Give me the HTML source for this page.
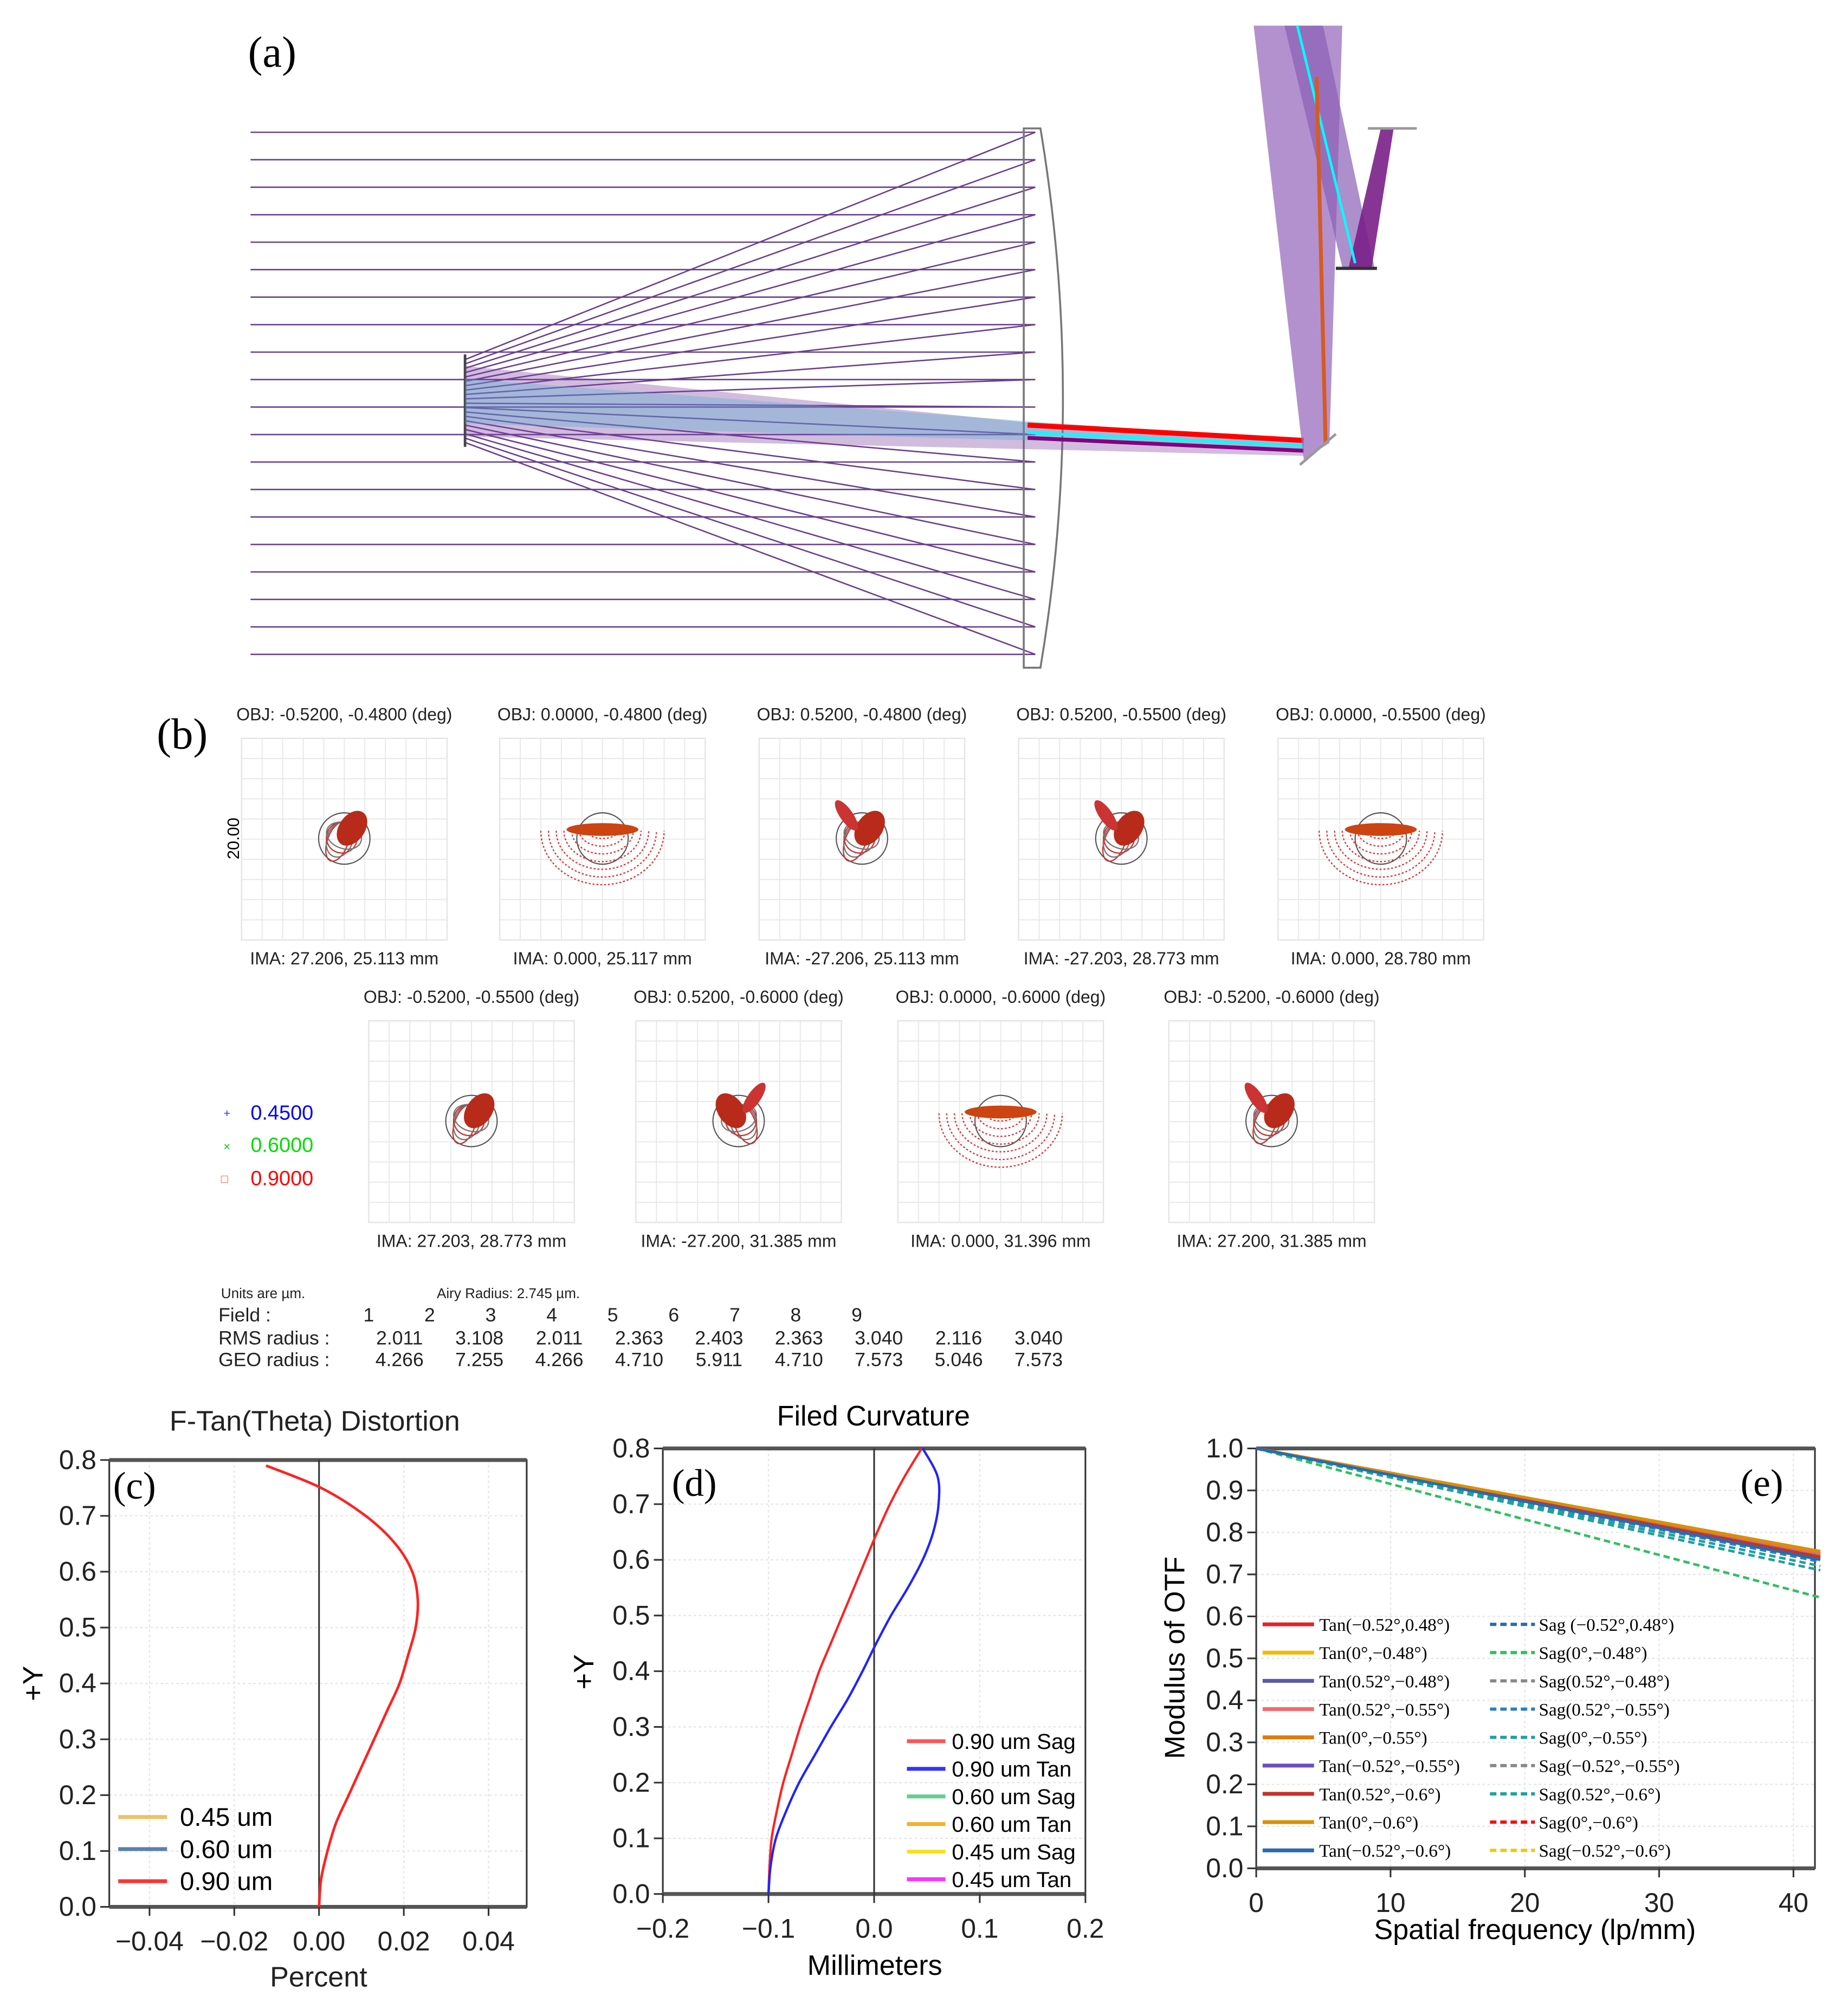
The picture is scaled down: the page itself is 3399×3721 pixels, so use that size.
<!DOCTYPE html>
<html><head><meta charset="utf-8"><style>
html,body{margin:0;padding:0;background:#fff}
svg{display:block}
text{font-family:"Liberation Sans",sans-serif}
.serif{font-family:"Liberation Serif",serif}
</style></head><body>
<svg id="root" width="3399" height="3721" viewBox="0 0 1434 1570" xmlns="http://www.w3.org/2000/svg">
<g id="panelA">
<text class="serif" x="193" y="52" font-size="34">(a)</text>
<g id="rays"></g>
<path d="M797,100 L810,100 Q845,310 810,520 L797,520 Z" fill="none" stroke="#777" stroke-width="1.5"/>
<line x1="362" y1="276" x2="362" y2="348" stroke="#444" stroke-width="2"/>
<polygon points="362,285 810,330 1015,345 1015,355 810,350 362,340" fill="#7b3fa0" opacity="0.35"/>
<polygon points="362,295 800,328 1015,343 1015,350 800,343 362,330" fill="#4fb0d0" opacity="0.35"/>
<line x1="800" y1="331" x2="1015" y2="343" stroke="#f00" stroke-width="4"/>
<line x1="800" y1="337" x2="1015" y2="347" stroke="#0ff" stroke-width="2"/>
<line x1="800" y1="341" x2="1015" y2="351" stroke="#800080" stroke-width="3"/>
<polygon points="976,20 1045,20 1035,345 1015,358" fill="#9a6cbf" opacity="0.75"/>
<polygon points="1000,20 1030,20 1070,208 1045,208" fill="#8a5fb5" opacity="0.7"/>
<polygon points="1050,208 1068,208 1085,100 1075,100" fill="#7a1f8a" opacity="0.9"/>
<line x1="1010" y1="20" x2="1055" y2="205" stroke="#0ff" stroke-width="2"/>
<line x1="1025" y1="60" x2="1032" y2="345" stroke="#d85a20" stroke-width="3"/>
<line x1="1065" y1="100" x2="1103" y2="100" stroke="#999" stroke-width="2"/>
<line x1="1040" y1="209" x2="1072" y2="209" stroke="#333" stroke-width="2.5"/>
<line x1="1012" y1="362" x2="1040" y2="338" stroke="#999" stroke-width="2"/>
</g>

<g id="panelB">
<text class="serif" x="122" y="583" font-size="34">(b)</text>
<g id="spots"></g>
<text x="174" y="870" font-size="9" fill="#33f">+</text><text x="195" y="872" font-size="16" fill="#00f">0.4500</text>
<text x="174" y="896" font-size="9" fill="#0c0">×</text><text x="195" y="897" font-size="16" fill="#0d0">0.6000</text>
<text x="172" y="921" font-size="9" fill="#f33">□</text><text x="195" y="923" font-size="16" fill="#f00">0.9000</text>
<g font-size="13" fill="#222">
<text x="172" y="1011" font-size="11">Units are µm.</text><text x="340" y="1011" font-size="11">Airy Radius: 2.745 µm.</text>
<text x="170" y="1029" font-size="15">Field      :</text>
<text x="170" y="1047" font-size="15">RMS radius :</text>
<text x="170" y="1064" font-size="15">GEO radius :</text>
<g id="tbl" font-size="15"></g>
</g>
</g>

<g id="charts"></g>
</svg>
<script>
const NS='http://www.w3.org/2000/svg';
function mk(parent,tag,attrs,txt){const e=document.createElementNS(NS,tag);for(const k in attrs)e.setAttribute(k,attrs[k]);if(txt!==undefined)e.textContent=txt;parent.appendChild(e);return e;}
const rays=document.getElementById('rays');
for(let i=0;i<20;i++){const y=103+i*21.4;
 const l=mk(rays,'polyline',{points:`195,${y} 806,${y} 362,${280+i*3.4}`,fill:'none',stroke:'#6a3f8f','stroke-width':1.1});
 
 }
const spotsG=document.getElementById('spots');
const spotTitles=['OBJ: -0.5200, -0.4800 (deg)','OBJ: 0.0000, -0.4800 (deg)','OBJ: 0.5200, -0.4800 (deg)','OBJ: 0.5200, -0.5500 (deg)','OBJ: 0.0000, -0.5500 (deg)','OBJ: -0.5200, -0.5500 (deg)','OBJ: 0.5200, -0.6000 (deg)','OBJ: 0.0000, -0.6000 (deg)','OBJ: -0.5200, -0.6000 (deg)'];
const spotIma=['IMA: 27.206, 25.113 mm','IMA: 0.000, 25.117 mm','IMA: -27.206, 25.113 mm','IMA: -27.203, 28.773 mm','IMA: 0.000, 28.780 mm','IMA: 27.203, 28.773 mm','IMA: -27.200, 31.385 mm','IMA: 0.000, 31.396 mm','IMA: 27.200, 31.385 mm'];
const spotCx=[268,469,671,873,1075,367,575,779,990];
const spotTop=[575,575,575,575,575,795,795,795,795];
const spotType=['tilt','fan','tiltR','tiltR','fan','blob','tiltL','fan','tiltR'];
spotCx.forEach((cx,i)=>{const top=spotTop[i],g=mk(spotsG,'g',{});
 
 
 mk(g,'rect',{x:cx-80,y:top,width:160,height:157,fill:'none',stroke:'#e4e4e4','stroke-width':1});
 for(let k=1;k<10;k++){mk(g,'line',{x1:cx-80+k*16,y1:top,x2:cx-80+k*16,y2:top+157,stroke:'#e8e8e8','stroke-width':0.8});mk(g,'line',{x1:cx-80,y1:top+k*15.7,x2:cx+80,y2:top+k*15.7,stroke:'#e8e8e8','stroke-width':0.8});}
 mk(g,'text',{x:cx,y:top-14,'font-size':13.5,'text-anchor':'middle',fill:'#222'},spotTitles[i]);
 mk(g,'text',{x:cx,y:top+176,'font-size':13.5,'text-anchor':'middle',fill:'#222'},spotIma[i]);
 const cy=top+78;
 mk(g,'circle',{cx:cx,cy:cy,r:20,fill:'none',stroke:'#555','stroke-width':0.9});
 const t=spotType[i];
 if(t==='fan'){for(let k=0;k<7;k++){mk(g,'path',{d:`M${cx-12-k*6},${cy-6} A${12+k*6},${6+k*6} 0 0 0 ${cx+12+k*6},${cy-6}`,fill:'none',stroke:'#d33','stroke-width':1,'stroke-dasharray':'1.5 1.5'});}
  mk(g,'ellipse',{cx:cx,cy:cy-7,rx:28,ry:5,fill:'#c41'});}
 else{const s=t==='tiltL'?-1:1;
  for(let k=0;k<4;k++)mk(g,'ellipse',{cx:cx-s*(4-k),cy:cy+4-k*2,rx:8+k*2,ry:16-k*2,fill:'none',stroke:k%2?'#777':'#c33','stroke-width':1,transform:`rotate(${s*20} ${cx} ${cy})`});
  mk(g,'ellipse',{cx:cx+s*6,cy:cy-8,rx:10,ry:15,fill:'#b82a1a',transform:`rotate(${s*35} ${cx+s*6} ${cy-8})`});
  if(t!=='blob'&&t!=='tilt')mk(g,'ellipse',{cx:cx+s*-12,cy:cy-18,rx:5,ry:14,fill:'#c33',transform:`rotate(${-s*35} ${cx-s*12} ${cy-18})`});}
});
mk(spotsG,'text',{x:0,y:0,'font-size':13,transform:'translate(186,653) rotate(-90)','text-anchor':'middle'},'20.00');
const tbl=document.getElementById('tbl');
const fieldNums=['1','2','3','4','5','6','7','8','9'];
const rms=['2.011','3.108','2.011','2.363','2.403','2.363','3.040','2.116','3.040'];
const geo=['4.266','7.255','4.266','4.710','5.911','4.710','7.573','5.046','7.573'];
fieldNums.forEach((f,i)=>{mk(tbl,'text',{x:287+i*47.5,y:1029,'text-anchor':'middle'},f);});
rms.forEach((v,i)=>{mk(tbl,'text',{x:311+i*62.2,y:1047,'text-anchor':'middle'},v);});
geo.forEach((v,i)=>{mk(tbl,'text',{x:311+i*62.2,y:1064,'text-anchor':'middle'},v);});

const C=document.getElementById('charts');
const distY=[0,0.05,0.1,0.15,0.2,0.25,0.3,0.35,0.4,0.45,0.5,0.55,0.6,0.65,0.7,0.75,0.79];
const distX=[0,0.0005,0.002,0.004,0.007,0.010,0.013,0.016,0.019,0.021,0.0228,0.0233,0.022,0.018,0.011,0.0005,-0.0125];
const distXTicks=[-0.04,-0.02,0.00,0.02,0.04];
const distXTickLabels=['\u22120.04','\u22120.02','0.00','0.02','0.04'];
const yTicks8=[0,0.1,0.2,0.3,0.4,0.5,0.6,0.7,0.8];
const fcY=[0,0.05,0.1,0.15,0.2,0.25,0.3,0.35,0.4,0.45,0.5,0.55,0.6,0.65,0.7,0.75,0.8];
const fcSag=[-0.1,-0.099,-0.097,-0.092,-0.086,-0.078,-0.07,-0.061,-0.052,-0.041,-0.03,-0.019,-0.008,0.003,0.015,0.029,0.045];
const fcTan=[-0.1,-0.098,-0.093,-0.083,-0.071,-0.056,-0.041,-0.025,-0.011,0.002,0.016,0.032,0.046,0.056,0.061,0.06,0.046];
const fcXTicks=[-0.2,-0.1,0,0.1,0.2];
const fcXTickLabels=['\u22120.2','\u22120.1','0.0','0.1','0.2'];
const mtfX=[0,42];
const mtfTanEnd=[0.755,0.752,0.748,0.75,0.745,0.742,0.74,0.755,0.735];
const mtfSagEnd=[0.74,0.645,0.745,0.73,0.71,0.745,0.72,0.75,0.745];
const mtfXTicks=[0,10,20,30,40];
const mtfYTicks=[0,0.1,0.2,0.3,0.4,0.5,0.6,0.7,0.8,0.9,1.0];
const tanLabels=['Tan(\u22120.52\u00b0,0.48\u00b0)','Tan(0\u00b0,\u22120.48\u00b0)','Tan(0.52\u00b0,\u22120.48\u00b0)','Tan(0.52\u00b0,\u22120.55\u00b0)','Tan(0\u00b0,\u22120.55\u00b0)','Tan(\u22120.52\u00b0,\u22120.55\u00b0)','Tan(0.52\u00b0,\u22120.6\u00b0)','Tan(0\u00b0,\u22120.6\u00b0)','Tan(\u22120.52\u00b0,\u22120.6\u00b0)'];
const sagLabels=['Sag (\u22120.52\u00b0,0.48\u00b0)','Sag(0\u00b0,\u22120.48\u00b0)','Sag(0.52\u00b0,\u22120.48\u00b0)','Sag(0.52\u00b0,\u22120.55\u00b0)','Sag(0\u00b0,\u22120.55\u00b0)','Sag(\u22120.52\u00b0,\u22120.55\u00b0)','Sag(0.52\u00b0,\u22120.6\u00b0)','Sag(0\u00b0,\u22120.6\u00b0)','Sag(\u22120.52\u00b0,\u22120.6\u00b0)'];
const tanColors=['#e8202a','#f5b800','#5a5aa8','#f46a6a','#e07b00','#6a4fc0','#c8302a','#d89000','#2a6ab0'];
const sagColors=['#2a6ab0','#30c060','#888','#2a80c0','#20a0a0','#888','#20a0a0','#f00','#f0c800'];

function axes(o){
 const sx=v=>o.x0+(v-o.xmin)/(o.xmax-o.xmin)*(o.x1-o.x0);
 const sy=v=>o.y1-(v-o.ymin)/(o.ymax-o.ymin)*(o.y1-o.y0);
 return {sx,sy};
}
function frame(g,o,xt,xtl,yt,ytl,sx,sy,grid){
 if(grid){xt.forEach(v=>mk(g,'line',{x1:sx(v),y1:o.y0,x2:sx(v),y2:o.y1,stroke:'#e6e6e6','stroke-dasharray':'2 2'}));
  yt.forEach(v=>mk(g,'line',{x1:o.x0,y1:sy(v),x2:o.x1,y2:sy(v),stroke:'#e6e6e6','stroke-dasharray':'2 2'}));}
 mk(g,'rect',{x:o.x0,y:o.y0,width:o.x1-o.x0,height:o.y1-o.y0,fill:'none',stroke:'#333','stroke-width':1.3});
 mk(g,'line',{x1:o.x0,y1:o.y0,x2:o.x1,y2:o.y0,stroke:'#555','stroke-width':3});
 mk(g,'line',{x1:o.x0,y1:o.y1,x2:o.x1,y2:o.y1,stroke:'#555','stroke-width':3});
 xt.forEach((v,i)=>{mk(g,'line',{x1:sx(v),y1:o.y1,x2:sx(v),y2:o.y1+7,stroke:'#333','stroke-width':1.3});
  const t=mk(g,'text',{x:sx(v),y:o.y1+34,'font-size':21,'text-anchor':'middle',fill:'#222'},xtl[i]);
  
  });
 yt.forEach((v,i)=>{mk(g,'line',{x1:o.x0-7,y1:sy(v),x2:o.x0,y2:sy(v),stroke:'#333','stroke-width':1.3});
  const t=mk(g,'text',{x:o.x0-10,y:sy(v)+7,'font-size':21,'text-anchor':'end',fill:'#222'},ytl[i]);
  
  });
}
function line(g,xs,ys,sx,sy,attrs){return mk(g,'polyline',Object.assign({points:xs.map((x,i)=>sx(x)+','+sy(ys[i])).join(' '),fill:'none'},attrs));}
function smooth(g,xs,ys,sx,sy,attrs){
 const P=xs.map((x,i)=>[sx(x),sy(ys[i])]);let d='M'+P[0][0]+','+P[0][1];
 for(let i=0;i<P.length-1;i++){const p0=P[Math.max(0,i-1)],p1=P[i],p2=P[i+1],p3=P[Math.min(P.length-1,i+2)];
  const c1=[p1[0]+(p2[0]-p0[0])/6,p1[1]+(p2[1]-p0[1])/6],c2=[p2[0]-(p3[0]-p1[0])/6,p2[1]-(p3[1]-p1[1])/6];
  d+=` C${c1[0]},${c1[1]} ${c2[0]},${c2[1]} ${p2[0]},${p2[1]}`;}
 return mk(g,'path',Object.assign({d:d,fill:'none'},attrs));}

(function(){const g=mk(C,'g',{});
 
 
 const o={x0:85,x1:410,y0:1137,y1:1485,xmin:-0.0495,xmax:0.049,ymin:0,ymax:0.8};const {sx,sy}=axes(o);
 frame(g,o,distXTicks,distXTickLabels,yTicks8,yTicks8.map(v=>v.toFixed(1)),sx,sy,true);
 mk(g,'line',{x1:sx(0),y1:o.y0,x2:sx(0),y2:o.y1,stroke:'#333','stroke-width':1.3});
 const l=smooth(g,distX,distY,sx,sy,{stroke:'#f22','stroke-width':2});
 
 
 mk(g,'text',{x:245,y:1114,'font-size':22,'text-anchor':'middle',fill:'#222'},'F-Tan(Theta) Distortion');
 mk(g,'text',{x:248,y:1547,'font-size':22,'text-anchor':'middle',fill:'#222'},'Percent');
 mk(g,'text',{x:0,y:0,'font-size':22,'text-anchor':'middle',transform:'translate(33,1311) rotate(-90)'},'+Y');
 mk(g,'text',{x:88,y:1167,'font-size':30,class:'serif'},'(c)');
 [['0.45 um','#f0c060',1415],['0.60 um','#5a80b0',1440],['0.90 um','#f33',1465]].forEach(a=>{
  mk(g,'line',{x1:92,y1:a[2],x2:130,y2:a[2],stroke:a[1],'stroke-width':3});
  const t=mk(g,'text',{x:140,y:a[2]+7,'font-size':20},a[0]);
  
  });
})();
(function(){const g=mk(C,'g',{});
 
 
 const o={x0:516,x1:845,y0:1128,y1:1475,xmin:-0.2,xmax:0.2,ymin:0,ymax:0.8};const {sx,sy}=axes(o);
 frame(g,o,fcXTicks,fcXTickLabels,yTicks8,yTicks8.map(v=>v.toFixed(1)),sx,sy,true);
 mk(g,'line',{x1:sx(0),y1:o.y0,x2:sx(0),y2:o.y1,stroke:'#333','stroke-width':1.3});
 const a=smooth(g,fcSag,fcY,sx,sy,{stroke:'#f22','stroke-width':1.8});
 
 
 const b=smooth(g,fcTan,fcY,sx,sy,{stroke:'#22f','stroke-width':1.8});
 
 
 mk(g,'text',{x:680,y:1110,'font-size':22,'text-anchor':'middle'},'Filed Curvature');
 mk(g,'text',{x:681,y:1538,'font-size':22,'text-anchor':'middle'},'Millimeters');
 mk(g,'text',{x:0,y:0,'font-size':22,'text-anchor':'middle',transform:'translate(462,1302) rotate(-90)'},'+Y');
 mk(g,'text',{x:523,y:1165,'font-size':30,class:'serif'},'(d)');
 [['0.90 um Sag','#f55'],['0.90 um Tan','#33f'],['0.60 um Sag','#60d090'],['0.60 um Tan','#f0b030'],['0.45 um Sag','#f5e020'],['0.45 um Tan','#f3f']].forEach((e,i)=>{const y=1356+i*21.5;
  mk(g,'line',{x1:706,y1:y,x2:736,y2:y,stroke:e[1],'stroke-width':3});
  const t=mk(g,'text',{x:741,y:y+6,'font-size':17},e[0]);
  
  });
})();
(function(){const g=mk(C,'g',{});
 
 
 const o={x0:978,x1:1413,y0:1128,y1:1455,xmin:0,xmax:41.6,ymin:0,ymax:1.0};const {sx,sy}=axes(o);
 frame(g,o,mtfXTicks,mtfXTicks.map(String),mtfYTicks,mtfYTicks.map(v=>v.toFixed(1)),sx,sy,true);
 mtfSagEnd.forEach((v,i)=>{const l=line(g,mtfX,[1,v],sx,sy,{stroke:sagColors[i],'stroke-width':2,'stroke-dasharray':'5 3'});
  
  });
 mtfTanEnd.forEach((v,i)=>{const l=line(g,mtfX,[1,v],sx,sy,{stroke:tanColors[i],'stroke-width':2.2});
  
  });
 mk(g,'text',{x:1195,y:1510,'font-size':22,'text-anchor':'middle'},'Spatial frequency (lp/mm)');
 mk(g,'text',{x:0,y:0,'font-size':22,'text-anchor':'middle',transform:'translate(922,1291) rotate(-90)'},'Modulus of OTF');
 mk(g,'text',{x:1355,y:1165,'font-size':30,class:'serif'},'(e)');
 tanLabels.forEach((lab,i)=>{const y=1265+i*22;
  mk(g,'line',{x1:983,y1:y,x2:1023,y2:y,stroke:tanColors[i],'stroke-width':3});
  const t=mk(g,'text',{x:1027,y:y+5,'font-size':14,class:'serif'},lab);
  
  
  mk(g,'line',{x1:1160,y1:y,x2:1195,y2:y,stroke:sagColors[i],'stroke-width':2.5,'stroke-dasharray':'5 3'});
  const s=mk(g,'text',{x:1198,y:y+5,'font-size':14,class:'serif'},sagLabels[i]);
  
  });
})();
</script>
</body></html>
